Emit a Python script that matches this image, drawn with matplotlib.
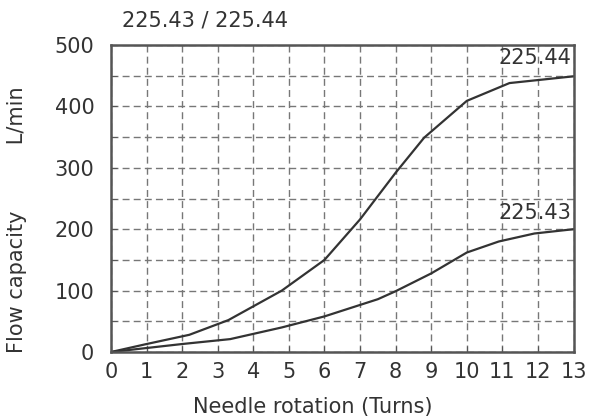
import matplotlib.pyplot as plt
from matplotlib.ticker import MultipleLocator

plt.rcParams['font.family'] = ['DejaVu Sans']

# curve 225.44
turns_44 = [0, 1, 2.2, 3.3, 4.8, 6.0, 7.0, 8.0, 8.8, 10.0, 11.2, 13.0]
flow_44 = [0, 13, 28, 52, 100, 150, 216, 292, 349, 409, 438, 449]

# curve 225.43
turns_43 = [0, 2.0, 3.35, 4.8, 6.0, 7.5, 8.0, 9.0, 10.0, 10.9, 11.9, 13.0]
flow_43 = [0, 13, 21, 40, 58, 86, 99, 128, 162, 180, 193, 200]

line_color = '#333333'
frame_color = '#555555'
text_color = '#333333'
fs = 15

fig = plt.figure(figsize=(5.95, 4.19), dpi=100)
ax = fig.add_axes([0.1866, 0.1599, 0.7773, 0.7327])

ax.plot(turns_44, flow_44, color=line_color, lw=1.6)
ax.plot(turns_43, flow_43, color=line_color, lw=1.6)

ax.set_xlim(0, 13)
ax.set_ylim(0, 500)
ax.xaxis.set_major_locator(MultipleLocator(1))
ax.yaxis.set_major_locator(MultipleLocator(100))
ax.yaxis.set_minor_locator(MultipleLocator(50))

ax.grid(True, which='both', linestyle=(0, (5, 3)), color='#777777', lw=1.0)
ax.tick_params(which='both', direction='in', length=4, color=frame_color,
               labelsize=fs, labelcolor=text_color)
ax.tick_params(axis='x', pad=7)
ax.tick_params(axis='y', pad=12)
for s in ax.spines.values():
    s.set_color(frame_color)
    s.set_linewidth(1.8)

ax.text(12.95, 462, '225.44', ha='right', va='bottom', fontsize=fs, color=text_color)
ax.text(12.95, 210, '225.43', ha='right', va='bottom', fontsize=fs, color=text_color)

fig.text(122 / 595, 1 - 20 / 419, '225.43 / 225.44', ha='left', va='center',
         fontsize=fs, color=text_color)
ax.set_xlabel('Needle rotation (Turns)', fontsize=fs, color=text_color, va='center')
ax.xaxis.set_label_coords(0.436, -0.178)
fig.text(17 / 595, 1 - 353 / 419, 'Flow capacity          L/min', rotation=90,
         ha='center', va='bottom', fontsize=fs, color=text_color)

fig.savefig('out.png', dpi=100)
